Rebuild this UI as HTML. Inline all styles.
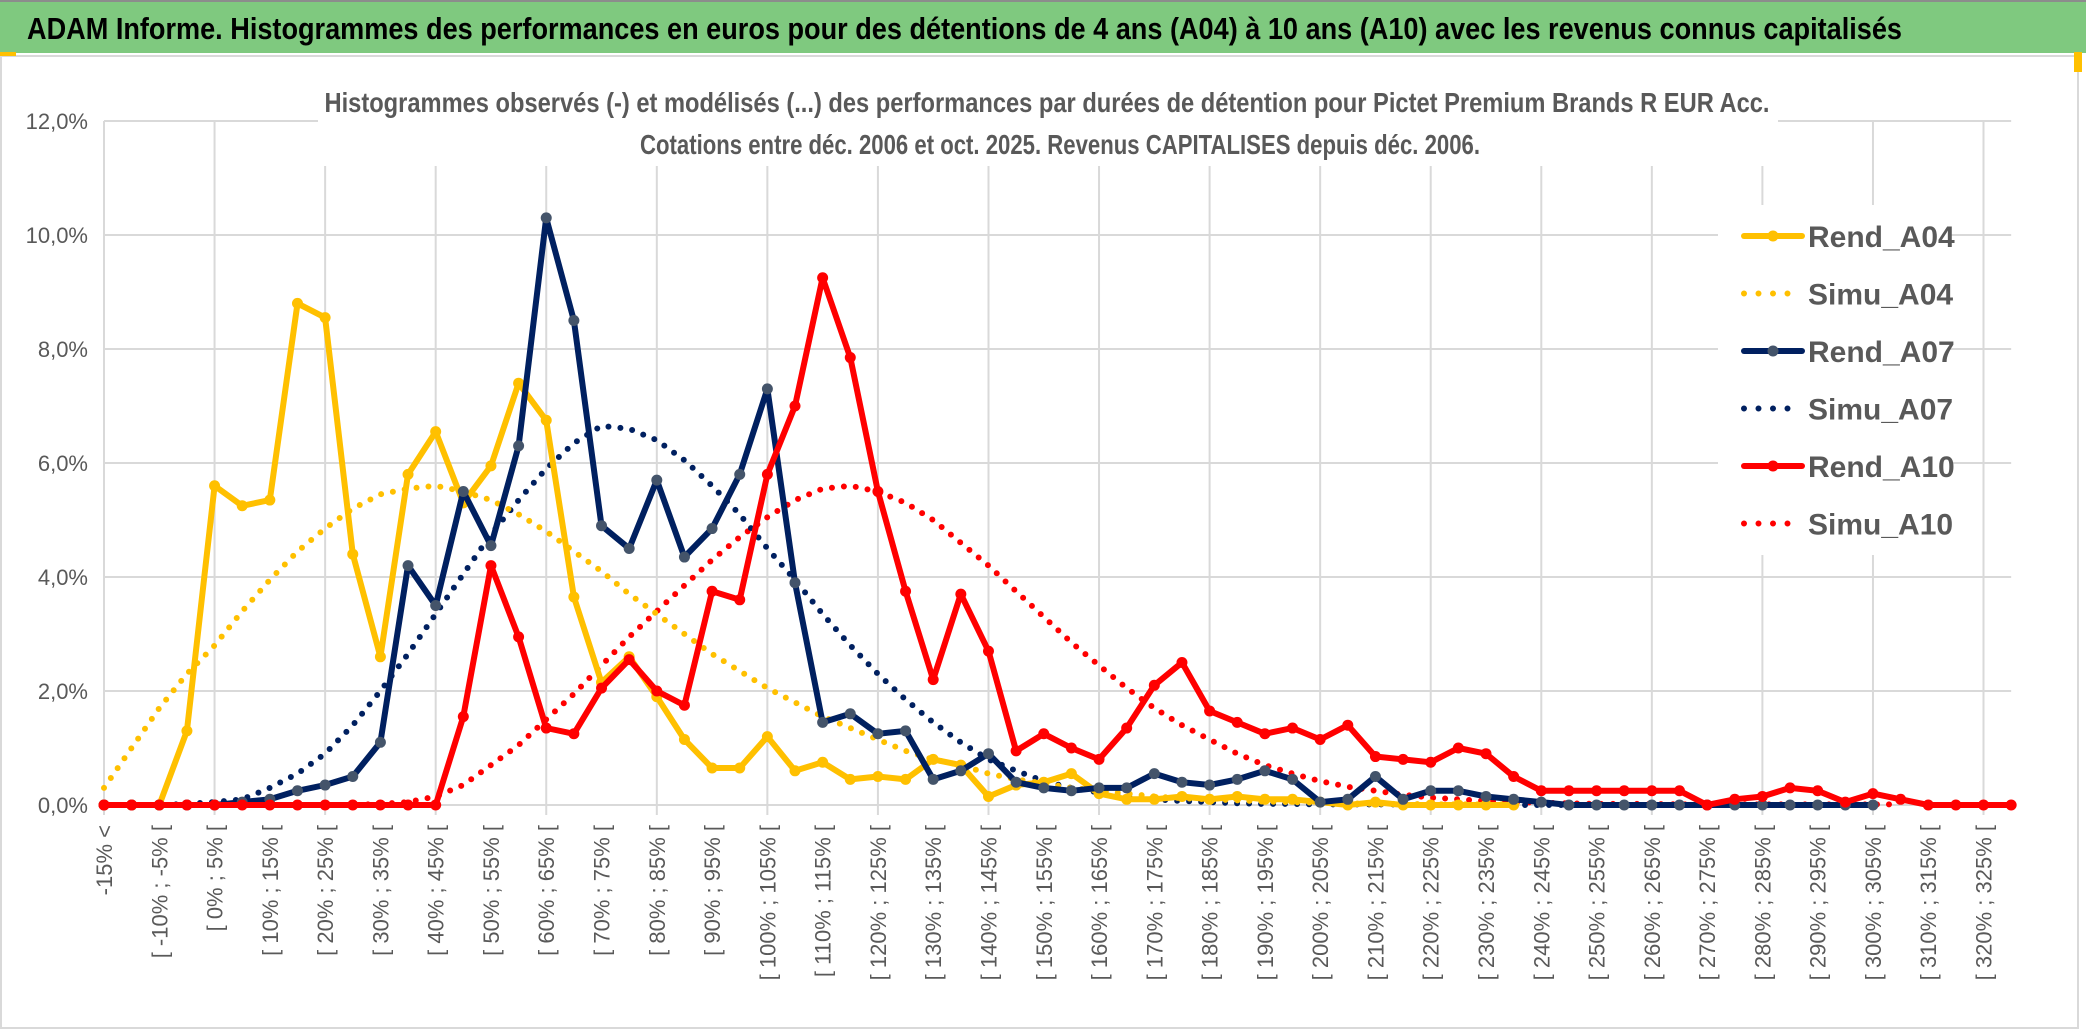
<!DOCTYPE html>
<html><head><meta charset="utf-8"><style>
html,body{margin:0;padding:0;background:#fff;}
svg{display:block;}
text{font-family:"Liberation Sans",sans-serif;}
</style></head><body>
<svg id="chart" width="2086" height="1033" viewBox="0 0 2086 1033" xmlns="http://www.w3.org/2000/svg">
<rect x="0" y="0" width="2086" height="53" fill="#7FC97F"/>
<rect x="0" y="0" width="2086" height="2" fill="#8c8c8c"/>
<text x="27" y="39" font-size="31" font-weight="bold" fill="#000" textLength="1875" lengthAdjust="spacingAndGlyphs">ADAM Informe. Histogrammes des performances en euros pour des détentions de 4 ans (A04) à 10 ans (A10) avec les revenus connus capitalisés</text>
<rect x="1" y="56" width="2077" height="972" fill="#fff" stroke="#d9d9d9" stroke-width="2"/>
<rect x="0" y="52" width="16" height="4" fill="#FFC000"/>
<rect x="2074" y="52" width="8" height="20" fill="#FFC000"/>
<g id="grid"></g>
<rect x="318" y="78" width="1460" height="88" fill="#fff"/>
<text x="1047" y="112" font-size="28" font-weight="bold" fill="#595959" text-anchor="middle" textLength="1445" lengthAdjust="spacingAndGlyphs">Histogrammes observés (-) et modélisés (...) des performances par durées de détention pour Pictet Premium Brands R EUR Acc.</text>
<text x="1060" y="154" font-size="28" font-weight="bold" fill="#595959" text-anchor="middle" textLength="840" lengthAdjust="spacingAndGlyphs">Cotations entre déc. 2006 et oct. 2025. Revenus CAPITALISES depuis déc. 2006.</text>
<g id="axes"></g>
<g id="series"></g>
<rect x="1718" y="205" width="232" height="350" fill="#fff"/>
<g id="legend"></g>
</svg>
<script>
const categories = [];
categories.push("-15% <");
for (let k = 1; k < 70; k++) { const lo = -15 + 5*(k-1); categories.push("[ " + lo + "% ; " + (lo+5) + "% ["); }
const yTickLabels = ["0,0%","2,0%","4,0%","6,0%","8,0%","10,0%","12,0%"];
const yTickValues = [0,2,4,6,8,10,12];
const rendA04 = [0,0,0,1.3,5.6,5.25,5.35,8.8,8.55,4.4,2.6,5.8,6.55,5.3,5.95,7.4,6.75,3.65,2.15,2.6,1.9,1.15,0.65,0.65,1.2,0.6,0.75,0.45,0.5,0.45,0.8,0.7,0.15,0.35,0.4,0.55,0.2,0.1,0.1,0.15,0.1,0.15,0.1,0.1,0.05,0,0.05,0,0,0,0,0];
const simuA04 = [0.3,1.0,1.7,2.3,2.8,3.4,3.95,4.45,4.85,5.2,5.45,5.55,5.6,5.5,5.35,5.1,4.8,4.45,4.1,3.7,3.35,3.0,2.65,2.35,2.05,1.8,1.55,1.35,1.15,0.95,0.8,0.7,0.55,0.45,0.38,0.3,0.25,0.2,0.15,0.12,0.1,0.08,0.06,0.05,0.04,0.03,0.02,0.02,0.01,0.01,0.01,0.01];
const rendA07 = [0,0,0,0,0,0.05,0.1,0.25,0.35,0.5,1.1,4.2,3.5,5.5,4.55,6.3,10.3,8.5,4.9,4.5,5.7,4.35,4.85,5.8,7.3,3.9,1.45,1.6,1.25,1.3,0.45,0.6,0.9,0.4,0.3,0.25,0.3,0.3,0.55,0.4,0.35,0.45,0.6,0.45,0.05,0.1,0.5,0.1,0.25,0.25,0.15,0.1,0.05,0,0,0,0,0,0,0,0,0,0,0,0];
const simuA07 = [0,0,0,0.02,0.05,0.1,0.3,0.55,0.9,1.4,2.0,2.65,3.35,4.05,4.75,5.35,5.9,6.35,6.65,6.6,6.4,6.05,5.6,5.1,4.5,3.95,3.35,2.8,2.3,1.85,1.45,1.1,0.8,0.6,0.42,0.3,0.22,0.15,0.1,0.07,0.05,0.03,0.02,0.02,0.01,0.01,0.01,0.01,0.01,0,0,0,0,0,0,0,0,0,0,0,0,0,0,0,0];
const rendA10 = [0,0,0,0,0,0,0,0,0,0,0,0,0,1.55,4.2,2.95,1.35,1.25,2.05,2.55,2.0,1.75,3.75,3.6,5.8,7.0,9.25,7.85,5.5,3.75,2.2,3.7,2.7,0.95,1.25,1.0,0.8,1.35,2.1,2.5,1.65,1.45,1.25,1.35,1.15,1.4,0.85,0.8,0.75,1.0,0.9,0.5,0.25,0.25,0.25,0.25,0.25,0.25,0,0.1,0.15,0.3,0.25,0.05,0.2,0.1,0,0,0,0];
const simuA10 = [0,0,0,0,0,0,0,0,0,0,0.02,0.05,0.15,0.35,0.7,1.05,1.5,1.95,2.45,2.95,3.4,3.85,4.3,4.7,5.05,5.35,5.55,5.6,5.5,5.3,5.0,4.6,4.2,3.75,3.3,2.85,2.45,2.05,1.7,1.4,1.15,0.9,0.7,0.55,0.42,0.32,0.25,0.18,0.13,0.1,0.07,0.05,0.04,0.03,0.02,0.02,0.02,0.01,0.01,0.01,0.01,0.01,0.01,0.01,0.01,0.01];
const seriesNames = ["Rend_A04","Simu_A04","Rend_A07","Simu_A07","Rend_A10","Simu_A10"];

const NS = "http://www.w3.org/2000/svg";
const X0 = 104, STEP = 27.64, Y0 = 805, PER = 57.0;
function xScale(i){ return X0 + i*STEP; }
function yScale(v){ return Y0 - v*PER; }
function mk(tag, attrs, parent){ const e = document.createElementNS(NS, tag); for (const k in attrs) e.setAttribute(k, attrs[k]); parent.appendChild(e); return e; }

const grid = document.getElementById('grid');
yTickValues.forEach((v,i)=>{
  const l = mk('line',{x1:X0,x2:xScale(categories.length-1),y1:yScale(v),y2:yScale(v),stroke:'#d9d9d9','stroke-width':2},grid);
  
  
});
for (let i=0;i<categories.length;i+=4){
  const l = mk('line',{x1:xScale(i),x2:xScale(i),y1:yScale(12),y2:Y0+10,stroke:'#d9d9d9','stroke-width':2},grid);
  
  
}
const axes = document.getElementById('axes');
yTickValues.forEach((v,i)=>{
  const t = mk('text',{x:88,y:yScale(v)+8,'font-size':22,fill:'#595959','text-anchor':'end'},axes);
  t.textContent = yTickLabels[i];
  
  
});
for (let i=0;i<categories.length;i+=2){
  const x = xScale(i)+8, y = Y0+20;
  const t = mk('text',{x:x,y:y,'font-size':22,fill:'#595959','text-anchor':'end',transform:'rotate(-90 '+x+' '+y+')'},axes);
  t.textContent = categories[i];
  
  
}
const seriesG = document.getElementById('series');
function drawSeries(vals, color, dotted, markerColor, name){
  const g = mk('g',{},seriesG);
  
  
  const pts = vals.map((v,i)=>xScale(i).toFixed(1)+','+yScale(v).toFixed(1)).join(' ');
  const attrs = {points:pts,fill:'none',stroke:color,'stroke-width':dotted?6:6,'stroke-linejoin':'round','stroke-linecap':'round'};
  if (dotted) attrs['stroke-dasharray'] = '0 12';
  mk('polyline',attrs,g);
  if (!dotted) vals.forEach((v,i)=>{
    const c = mk('circle',{cx:xScale(i),cy:yScale(v),r:5.5,fill:markerColor},g);
    
    
  });
}
drawSeries(simuA10,'#FF0000',true,null,'series-simu-a10');
drawSeries(simuA07,'#002060',true,null,'series-simu-a07');
drawSeries(simuA04,'#FFC000',true,null,'series-simu-a04');
drawSeries(rendA04,'#FFC000',false,'#FFC000','series-rend-a04');
drawSeries(rendA07,'#002060',false,'#44546A','series-rend-a07');
drawSeries(rendA10,'#FF0000',false,'#FF0000','series-rend-a10');

const leg = document.getElementById('legend');
const legColors = ['#FFC000','#FFC000','#002060','#002060','#FF0000','#FF0000'];
const legMarker = ['#FFC000',null,'#44546A',null,'#FF0000',null];
seriesNames.forEach((n,i)=>{
  const y = 236 + i*57.5;
  const g = mk('g',{},leg);
  
  
  if (legMarker[i]) {
    mk('line',{x1:1744,x2:1802,y1:y,y2:y,stroke:legColors[i],'stroke-width':6,'stroke-linecap':'round'},g);
    mk('circle',{cx:1773,cy:y,r:5.5,fill:legMarker[i]},g);
  } else {
    mk('line',{x1:1744,x2:1800,y1:y,y2:y,stroke:legColors[i],'stroke-width':6,'stroke-linecap':'round','stroke-dasharray':'0 14.5'},g);
  }
  const t = mk('text',{x:1808,y:y+11,'font-size':30,'font-weight':'bold',fill:'#595959'},g);
  t.textContent = n;
});
</script>
</body></html>
